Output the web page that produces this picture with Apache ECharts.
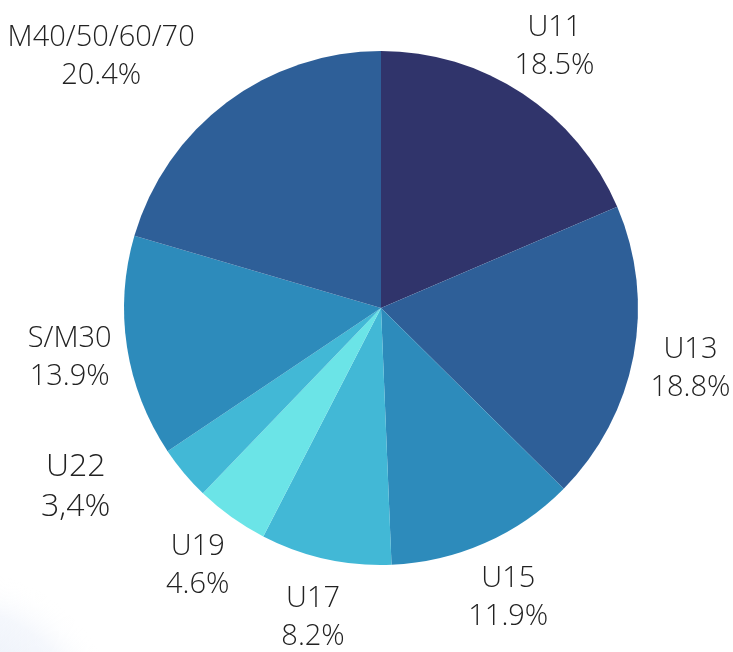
<!DOCTYPE html>
<html>
<head>
<meta charset="utf-8">
<script src="https://cdn.jsdelivr.net/npm/echarts@6/dist/echarts.min.js"></script>
<style>
  html, body { margin: 0; padding: 0; background: #fff; }
  #chart { width: 733px; height: 652px; }
</style>
</head>
<body>
<div id="chart"></div>
<script>
// 各组别占比（顺时针，从正上方开始）
const categories = ['U11', 'U13', 'U15', 'U17', 'U19', 'U22', 'S/M30', 'M40/50/60/70'];
const values = [18.5, 18.8, 11.9, 8.2, 4.6, 3.4, 13.9, 20.4];
const valueText = ['18.5%', '18.8%', '11.9%', '8.2%', '4.6%', '3,4%', '13.9%', '20.4%'];
const colors = ['#30346b', '#2e5f98', '#2d8bbb', '#42b8d6', '#6be4e7', '#42b8d6', '#2d8bbb', '#2e5f98'];

const CENTER = [381, 308];
const R = 257;

const pieData = categories.map((name, i) => ({
  name: name,
  value: values[i],
  itemStyle: { color: colors[i] }
}));

// 透明外环，只用来放标签
const labelData = categories.map((name, i) => ({
  name: name,
  value: values[i],
  label: i === 5 ? { fontSize: 32, lineHeight: 40 } : {}
}));

const chart = echarts.init(document.getElementById('chart'));
chart.setOption({
  animation: false,
  graphic: [
    {
      type: 'circle',
      shape: { cx: -40, cy: 730, r: 160 },
      style: {
        fill: {
          type: 'radial', x: 0.5, y: 0.5, r: 0.5,
          colorStops: [
            { offset: 0, color: 'rgba(214,224,242,0.8)' },
            { offset: 0.75, color: 'rgba(232,238,249,0.45)' },
            { offset: 1, color: 'rgba(255,255,255,0)' }
          ]
        }
      },
      silent: true,
      z: -1
    }
  ],
  series: [
    {
      type: 'pie',
      center: CENTER,
      radius: [0, R],
      startAngle: 90,
      label: { show: false },
      labelLine: { show: false },
      itemStyle: { borderWidth: 0 },
      data: pieData
    },
    {
      type: 'pie',
      center: CENTER,
      radius: [R, R + 110],
      startAngle: 90,
      silent: true,
      itemStyle: { color: 'rgba(0,0,0,0)', borderWidth: 0 },
      labelLine: { show: false },
      label: {
        show: true,
        position: 'inside',
        fontFamily: 'Open Sans',
        fontWeight: 300,
        fontSize: 29,
        lineHeight: 38,
        color: '#222',
        formatter: (p) => p.name + '\n' + valueText[p.dataIndex]
      },
      labelLayout: (params) => {
        if (params.dataIndex === 5) return { dx: -64, dy: -24 };
        if (params.dataIndex === 7) return { dx: -91, dy: 1 };
        return { dy: 2 };
      },
      data: labelData
    }
  ]
});
</script>
</body>
</html>
